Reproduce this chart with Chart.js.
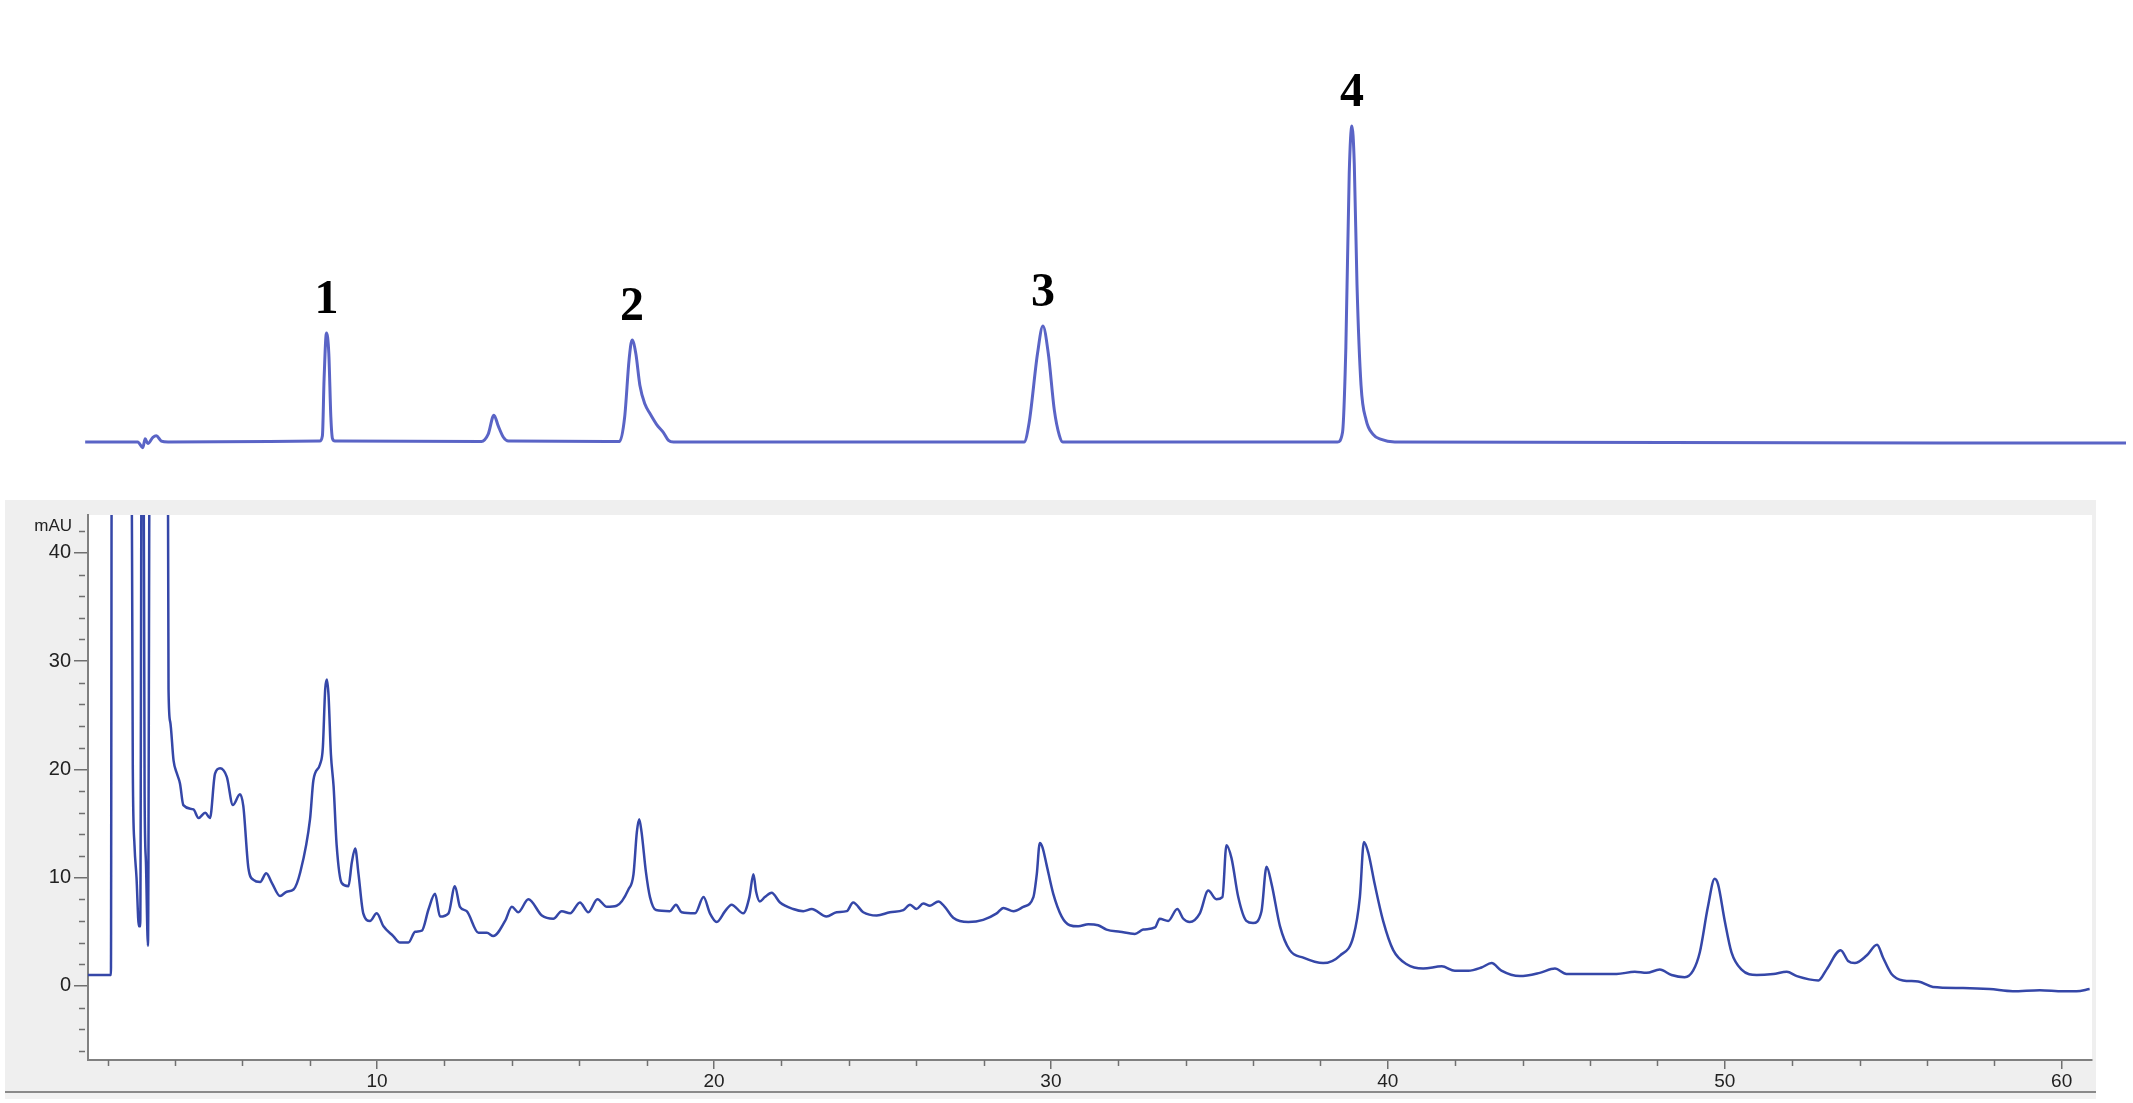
<!DOCTYPE html>
<html>
<head>
<meta charset="utf-8">
<script src="https://cdn.jsdelivr.net/npm/chart.js@4/dist/chart.umd.min.js"></script>
<style>
  html, body { margin: 0; padding: 0; background: #fff; }
  body { width: 2133px; height: 1103px; position: relative; overflow: hidden; }
  #top { position: absolute; left: 0; top: 0; width: 2133px; height: 470px; }
  #bottom { position: absolute; left: 5px; top: 500px; width: 2091px; height: 591px;
            background: #efefef; border-bottom: 2px solid #8a8a8a; }
  #strip { position: absolute; left: 5px; top: 1093px; width: 2091px; height: 6px; background: #f2f2f2; }
</style>
</head>
<body>
<div id="top"><canvas id="topChart"></canvas></div>
<div id="bottom"><canvas id="bottomChart"></canvas></div>
<div id="strip"></div>
<script>
// standard mixture trace (upper)
const stdTime = [1.34, 2.9, 3.05, 3.12, 3.2, 3.35, 3.45, 3.6, 3.8,
  8.3, 8.38, 8.43, 8.5, 8.57, 8.63, 8.68, 8.75,
  13.1, 13.3, 13.47, 13.6, 13.75, 13.9,
  17.2, 17.35, 17.48, 17.57, 17.68, 17.8, 17.95, 18.1, 18.3, 18.5, 18.65, 18.8,
  29.2, 29.35, 29.6, 29.76, 29.92, 30.1, 30.25, 30.35,
  38.5, 38.65, 38.75, 38.85, 38.93, 39.0, 39.08, 39.2, 39.35, 39.55, 39.8, 40.2, 61.9];
const stdSignal = [0, 0, -1.8, 1.0, -0.5, 1.5, 2.0, 0.3, 0,
  0.3, 2, 20, 34.5, 28, 8, 1, 0.3,
  0.2, 2.5, 8.5, 5, 1.5, 0.3,
  0.2, 8, 26, 32.3, 28, 18, 12, 9, 5.5, 3, 0.5, 0,
  0, 6, 28, 36.7, 28, 10, 2, 0,
  0, 3, 30, 85, 100, 88, 50, 18, 7, 2.5, 0.8, 0, -0.3];

const peakLabels = ['1', '2', '3', '4'];
const peakTimes = [8.5, 17.57, 29.76, 38.93];

// sample trace (lower), mAU
const sampleTime = [1.42, 2.05, 2.1, 2.13, 2.7, 2.75, 2.8, 2.86, 2.93, 2.97, 3.02, 3.06, 3.1, 3.14, 3.2, 3.26, 3.78,
  3.81, 3.86, 3.96, 4.06, 4.15, 4.25, 4.55, 4.70, 4.90, 5.04, 5.19, 5.34, 5.54, 5.72, 5.93, 6.03, 6.18, 6.33, 6.53,
  6.71, 6.88, 7.12, 7.32, 7.52, 7.72, 8.01, 8.11, 8.31, 8.39, 8.46, 8.51, 8.56, 8.63, 8.71, 8.80, 8.95, 9.15, 9.25,
  9.35, 9.45, 9.59, 9.79, 9.99, 10.19, 10.48, 10.68, 10.93, 11.13, 11.33, 11.53, 11.72, 11.87, 12.12, 12.31, 12.46,
  12.66, 13.01, 13.26, 13.45, 13.80, 14.00, 14.19, 14.49, 14.89, 15.23, 15.48, 15.73, 16.02, 16.27, 16.54, 16.82,
  17.11, 17.46, 17.61, 17.71, 17.78, 17.85, 17.98, 18.10, 18.28, 18.69, 18.87, 19.04, 19.44, 19.69, 19.88, 20.08,
  20.33, 20.52, 20.87, 21.05, 21.17, 21.25, 21.36, 21.51, 21.71, 21.96, 22.35, 22.65, 22.90, 23.34, 23.64, 23.94,
  24.13, 24.43, 24.83, 25.22, 25.62, 25.82, 26.01, 26.21, 26.41, 26.66, 26.85, 27.10, 27.55, 27.99, 28.39, 28.59,
  28.89, 29.18, 29.48, 29.58, 29.67, 29.75, 29.87, 30.07, 30.32, 30.56, 30.81, 31.11, 31.40, 31.65, 32.05, 32.49,
  32.74, 33.09, 33.23, 33.48, 33.75, 33.93, 34.12, 34.42, 34.67, 34.91, 35.09, 35.21, 35.36, 35.56, 35.80, 36.00,
  36.25, 36.40, 36.55, 36.80, 37.09, 37.49, 38.08, 38.58, 38.98, 39.17, 39.29, 39.42, 39.61, 39.86, 40.16, 40.56,
  41.05, 41.60, 41.99, 42.39, 42.78, 43.08, 43.37, 43.92, 44.51, 44.96, 45.30, 46.24, 46.79, 47.33, 47.68, 48.07,
  48.42, 48.81, 49.06, 49.26, 49.50, 49.70, 49.80, 50.00, 50.20, 50.50, 50.95, 51.44, 51.84, 52.14, 52.78, 53.02,
  53.44, 53.66, 53.86, 54.21, 54.52, 54.70, 54.95, 55.29, 55.74, 56.18, 57.07, 57.86, 58.55, 59.35, 60.04, 60.44, 60.83];
const sampleSignal = [1.0, 1.0, 1.0, 60, 60, 20, 13, 10, 5.5, 5.5, 60, 60, 17.7, 11.4, 3.7, 60, 60,
  27.4, 24.4, 20.8, 19.6, 18.7, 16.7, 16.3, 15.5, 16.0, 15.5, 19.6, 20.1, 19.3, 16.7, 17.7, 16.6, 10.9, 9.8, 9.6,
  10.4, 9.5, 8.3, 8.7, 8.9, 10.5, 15.4, 19.0, 20.5, 22.0, 27.4, 28.3, 26.8, 21.4, 18.4, 13.0, 9.5, 9.2, 11.4,
  12.7, 10.3, 6.7, 6.0, 6.7, 5.5, 4.6, 4.0, 4.0, 5.0, 5.1, 7.1, 8.5, 6.4, 6.7, 9.2, 7.3,
  6.9, 4.9, 4.9, 4.6, 6.0, 7.3, 6.8, 8.0, 6.5, 6.2, 6.9, 6.7, 7.7, 6.8, 8.0, 7.3,
  7.4, 8.9, 10.3, 14.2, 15.4, 14.2, 10.5, 8.2, 7.0, 6.9, 7.5, 6.8, 6.7, 8.2, 6.7, 5.9,
  6.9, 7.5, 6.7, 8.2, 10.3, 8.7, 7.8, 8.2, 8.6, 7.7, 7.1, 6.9, 7.1, 6.4, 6.8, 6.9,
  7.7, 6.8, 6.5, 6.8, 7.0, 7.5, 7.1, 7.6, 7.4, 7.8, 7.3, 6.3, 5.9, 6.1, 6.7, 7.2,
  6.9, 7.3, 8.2, 10.3, 13.2, 12.8, 11.2, 8.5, 6.4, 5.6, 5.5, 5.7, 5.6, 5.2, 5.0, 4.8,
  5.2, 5.4, 6.2, 6.0, 7.1, 6.2, 5.9, 6.7, 8.8, 8.0, 8.2, 13.0, 11.8, 8.2, 6.0, 5.8,
  6.9, 11.0, 9.4, 5.5, 3.3, 2.6, 2.1, 2.8, 4.6, 8.2, 13.3, 12.3, 9.4, 6.0, 3.3, 2.0,
  1.6, 1.8, 1.4, 1.4, 1.7, 2.1, 1.4, 0.9, 1.2, 1.6, 1.1, 1.1, 1.1, 1.3, 1.2, 1.5,
  1.0, 0.8, 1.4, 3.1, 7.3, 9.9, 9.4, 6.0, 3.1, 1.5, 1.0, 1.1, 1.3, 0.9, 0.5, 1.5,
  3.3, 2.3, 2.1, 2.8, 3.8, 2.6, 1.1, 0.5, 0.4, -0.1, -0.2, -0.3, -0.5, -0.4, -0.5, -0.5, -0.3];

const xTicks = [10, 20, 30, 40, 50, 60];
const yTicks = [0, 10, 20, 30, 40];
const minorStep = 2;

const toPoints = (xs, ys) => xs.map((x, i) => ({ x, y: ys[i] }));

// upper chromatogram with peak numbers
const peakNumbers = {
  id: 'peakNumbers',
  afterDatasetsDraw(chart) {
    const { ctx, scales } = chart;
    ctx.save();
    ctx.fillStyle = '#000';
    ctx.font = 'bold 48px "Liberation Serif", "Times New Roman", serif';
    ctx.textAlign = 'center';
    ctx.textBaseline = 'alphabetic';
    peakLabels.forEach((lab, i) => {
      let top = 0;
      stdTime.forEach((t, j) => { if (Math.abs(t - peakTimes[i]) < 0.3) top = Math.max(top, stdSignal[j]); });
      ctx.fillText(lab, scales.x.getPixelForValue(peakTimes[i]), scales.y.getPixelForValue(top) - 20);
    });
    ctx.restore();
  }
};

new Chart(document.getElementById('topChart'), {
  type: 'line',
  data: { datasets: [{ data: toPoints(stdTime, stdSignal), borderColor: '#5a64c6', borderWidth: 3,
    pointRadius: 0, cubicInterpolationMode: 'monotone' }] },
  options: {
    responsive: true, maintainAspectRatio: false, animation: false,
    layout: { padding: { left: 85, right: 7, top: 0, bottom: 0 } },
    plugins: { legend: { display: false }, tooltip: { enabled: false } },
    scales: {
      x: { type: 'linear', min: 1.335, max: 61.9, display: false },
      y: { min: -8.86, max: 139.9, display: false }
    }
  },
  plugins: [peakNumbers]
});

// lower chromatogram with instrument-style axes
const frame = {
  id: 'frame',
  beforeDraw(chart) {
    const { ctx, chartArea: a } = chart;
    ctx.save();
    ctx.fillStyle = '#fff';
    ctx.fillRect(a.left, a.top, a.right - a.left, a.bottom - a.top);
    ctx.restore();
  },
  afterDraw(chart) {
    const { ctx, scales, chartArea: a } = chart;
    ctx.save();
    ctx.strokeStyle = '#707070';
    ctx.lineWidth = 1.5;
    ctx.beginPath();
    for (let v = Math.ceil(scales.y.min / minorStep) * minorStep; v <= scales.y.max; v += minorStep) {
      if (yTicks.includes(v)) continue;
      const py = Math.round(scales.y.getPixelForValue(v)) + 0.5;
      ctx.moveTo(a.left - 9, py); ctx.lineTo(a.left - 3, py);
    }
    for (let v = Math.ceil(scales.x.min / minorStep) * minorStep; v <= scales.x.max; v += minorStep) {
      if (xTicks.includes(v)) continue;
      const px = Math.round(scales.x.getPixelForValue(v)) + 0.5;
      ctx.moveTo(px, a.bottom); ctx.lineTo(px, a.bottom + 6);
    }
    ctx.stroke();
    ctx.fillStyle = '#222';
    ctx.font = '17px "Liberation Sans", Arial, sans-serif';
    ctx.textAlign = 'right';
    ctx.textBaseline = 'middle';
    ctx.fillText('mAU', a.left - 16, scales.y.getPixelForValue(42) - 5);
    ctx.restore();
  }
};

new Chart(document.getElementById('bottomChart'), {
  type: 'line',
  data: { datasets: [{ data: toPoints(sampleTime, sampleSignal), borderColor: '#3547a8', borderWidth: 2.5,
    pointRadius: 0, cubicInterpolationMode: 'monotone' }] },
  options: {
    responsive: true, maintainAspectRatio: false, animation: false,
    layout: { padding: { left: 0, right: 4, top: 2, bottom: 0 } },
    plugins: { legend: { display: false }, tooltip: { enabled: false } },
    scales: {
      x: {
        type: 'linear', min: 1.42, max: 60.9,
        afterBuildTicks: s => { s.ticks = xTicks.map(value => ({ value })); },
        afterFit: s => { s.height = 31; },
        grid: { drawOnChartArea: false, tickLength: 9, color: '#707070', lineWidth: 1.5 },
        border: { color: '#808080', width: 2 },
        ticks: { color: '#222', padding: 1, maxRotation: 0, font: { family: '"Liberation Sans", Arial, sans-serif', size: 19 } }
      },
      y: {
        min: -6.85, max: 43.5,
        afterBuildTicks: s => { s.ticks = yTicks.map(value => ({ value })); },
        afterFit: s => { s.width = 83; },
        grid: { drawOnChartArea: false, tickLength: 14, color: '#707070', lineWidth: 1.5 },
        border: { color: '#808080', width: 2 },
        ticks: { color: '#222', padding: 3, font: { family: '"Liberation Sans", Arial, sans-serif', size: 20 } }
      }
    }
  },
  plugins: [frame]
});
</script>
</body>
</html>
